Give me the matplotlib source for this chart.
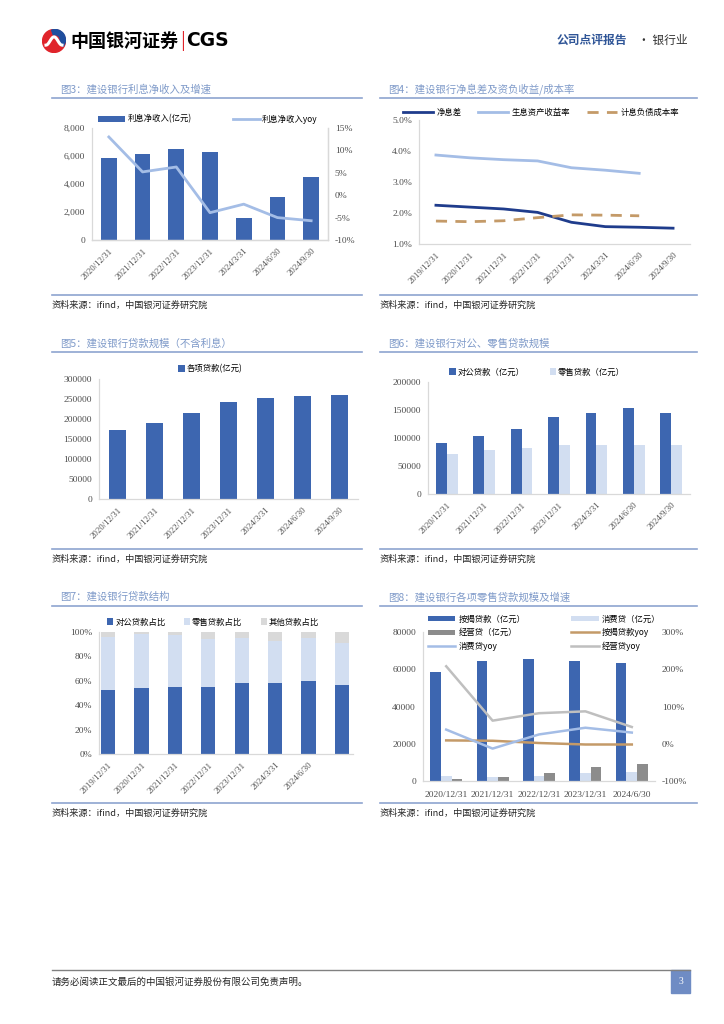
import numpy as np
import matplotlib
matplotlib.use('Agg')
import matplotlib.pyplot as plt
from matplotlib.patches import Rectangle, Circle, Wedge
from matplotlib.lines import Line2D
from matplotlib.ticker import FuncFormatter

plt.rcParams['font.family'] = ['Liberation Serif', 'Noto Sans CJK SC', 'DejaVu Sans']
CJK = ['Noto Sans CJK SC', 'DejaVu Sans']

# ---- data ----
dates7 = ['2020/12/31', '2021/12/31', '2022/12/31', '2023/12/31', '2024/3/31', '2024/6/30', '2024/9/30']
dates8 = ['2019/12/31'] + dates7
dates7b = dates8[:7]
years5 = ['2020/12/31', '2021/12/31', '2022/12/31', '2023/12/31', '2024/6/30']

nii = [5850, 6140, 6520, 6280, 1580, 3060, 4510]
nii_yoy = [13.0, 5.2, 6.3, -3.9, -2.0, -5.0, -5.7]

nim = [2.25, 2.19, 2.13, 2.02, 1.70, 1.56, 1.54, 1.51]
asset_yield = [3.87, 3.78, 3.72, 3.68, 3.46, 3.38, 3.28]
liab_cost = [1.74, 1.72, 1.75, 1.85, 1.94, 1.93, 1.91]

loans = [171300, 190500, 213900, 241500, 252400, 256500, 259900]

corp_loans = [90800, 103300, 116900, 138300, 145400, 153700, 145400]
retail_loans = [71800, 78900, 82500, 87200, 87200, 87800, 87200]

corp_share = [52.3, 54.2, 54.8, 55.3, 58.1, 57.8, 60.0, 56.4]
retail_share = [43.9, 44.2, 42.7, 39.2, 36.7, 35.1, 35.1, 34.6]
other_share = [100 - a - b for a, b in zip(corp_share, retail_share)]

mortgage = [58500, 64200, 65300, 64200, 63400]
consumer = [2500, 2150, 2700, 4300, 4800]
business = [1070, 2150, 4100, 7500, 8950]
mortgage_yoy = [9, 8, 2, -2, -2]
consumer_yoy = [38, -13, 25, 43, 30]
business_yoy = [208, 62, 82, 87, 45]

# ---- style ----
BLUE = '#3D66B0'
LBLUE = '#A4BDE6'
PALE = '#D2DEF1'
GRAY = '#D9D9D9'
DGRAY = '#8C8C8C'
NAVY = '#1F3C8C'
TAN = '#C49A68'
LGRAY = '#BFBFBF'
TITLE_C = '#7F9AC9'
RULE_C = '#8EA4D0'
TICK_C = '#4D4D4D'

W, H = 724, 1024
fig = plt.figure(figsize=(7.24, 10.24), dpi=100)


def fx(p):
    return p / W


def fy(p):
    return 1 - p / H


def box(l, t, r, b):
    return [l / W, 1 - b / H, (r - l) / W, (b - t) / H]


def hline(x0, x1, y, color, lw):
    fig.add_artist(Line2D([fx(x0), fx(x1)], [fy(y), fy(y)], color=color, lw=lw))


def frame(l, r, ty, title):
    fig.text(fx(l + 8), fy(ty), title, color=TITLE_C, fontsize=7.5, va='center', family=CJK)
    hline(l, r, ty + 9, RULE_C, 1.2)
    hline(l, r, ty + 206, RULE_C, 1.2)
    fig.text(fx(l), fy(ty + 216), '资料来源：ifind，中国银河证券研究院', fontsize=6.6,
             va='center', family=CJK, color='#262626')


def style(ax, right=False):
    ax.spines['top'].set_visible(False)
    ax.spines['right'].set_visible(right)
    for s in ['left', 'bottom', 'right']:
        ax.spines[s].set_color(GRAY)
        ax.spines[s].set_linewidth(0.9)
    ax.tick_params(length=0, labelsize=6.8, colors=TICK_C, pad=5)
    ax.patch.set_alpha(0)


def rot(ax, labels):
    ax.set_xticklabels(labels, rotation=45, ha='right', rotation_mode='anchor', fontsize=6.3)


# ---- header / footer ----
lax = fig.add_axes(box(41, 29, 67, 53))
lax.set_aspect('equal')
lax.axis('off')
lax.set_xlim(-1.05, 1.05)
lax.set_ylim(-1.05, 1.05)
lax.add_patch(Circle((0, 0), 1, color='#E0242B'))
lax.add_patch(Wedge((0.1, 0.1), 0.9, -40, 110, width=0.45, color='#1F4E9E'))
t = np.linspace(0, 1, 50)
lax.plot(-0.7 + 1.4 * t, 0.6 * np.sin(np.pi * (2 * t - 0.5)) * 0.6, color='white', lw=2.2)
fig.text(fx(70), fy(41), '中国银河证券', fontsize=13, fontweight='bold', va='center', family=CJK)
fig.text(fx(180), fy(41), '|', fontsize=13, color='#E0242B', va='center', family=CJK)
fig.text(fx(186), fy(41), 'CGS', fontsize=13.5, fontweight='bold', va='center', family=['DejaVu Sans'])
fig.text(fx(557), fy(40), '公司点评报告', fontsize=8.5, fontweight='bold', color='#2F5597', va='center', family=CJK)
fig.text(fx(638), fy(40), '· 银行业', fontsize=8.5, color='#333333', va='center', family=CJK)

hline(52, 690, 970, '#808080', 1.0)
fig.text(fx(52), fy(982), '请务必阅读正文最后的中国银河证券股份有限公司免责声明。', fontsize=6.8,
         va='center', family=CJK, color='#262626')
fig.add_artist(Rectangle((fx(671), fy(993)), fx(690) - fx(671), fy(970) - fy(993),
                         transform=fig.transFigure, color='#6F8CC4'))
fig.text(fx(680.5), fy(981.5), '3', fontsize=7, color='white', ha='center', va='center')

# ---- panel frames ----
frame(52, 362, 89, '图3：建设银行利息净收入及增速')
frame(380, 697, 89, '图4：建设银行净息差及资负收益/成本率')
frame(52, 362, 343, '图5：建设银行贷款规模（不含利息）')
frame(380, 697, 343, '图6：建设银行对公、零售贷款规模')
frame(52, 362, 597, '图7：建设银行贷款结构')
frame(380, 697, 597, '图8：建设银行各项零售贷款规模及增速')

# ---- chart 3 ----
ax = fig.add_axes(box(92, 128, 328, 240))
x = np.arange(len(dates7))
b1 = ax.bar(x, nii, width=0.47, color=BLUE)
ax.set_xlim(-0.5, len(x) - 0.5)
ax.set_ylim(0, 8000)
ax.set_yticks(range(0, 8001, 2000))
ax.yaxis.set_major_formatter(FuncFormatter(lambda v, p: f'{int(v):,}'))
ax.set_xticks(x)
style(ax, right=True)
rot(ax, dates7)
ax2 = ax.twinx()
l1, = ax2.plot(x, nii_yoy, color=LBLUE, lw=2)
ax2.set_ylim(-10, 15)
ax2.set_yticks(range(-10, 16, 5))
ax2.yaxis.set_major_formatter(FuncFormatter(lambda v, p: f'{int(v)}%'))
style(ax2, right=True)
ax2.spines['left'].set_visible(False)
fig.legend([b1, l1], ['利息净收入(亿元)', '利息净收入yoy'], loc='center',
           bbox_to_anchor=(fx(208), fy(119)), ncol=2, frameon=False,
           prop={'family': CJK, 'size': 6}, handlelength=3.2, columnspacing=5, handletextpad=0.3)

# ---- chart 4 ----
ax = fig.add_axes(box(419, 120, 690, 244))
x = np.arange(len(dates8))
h1, = ax.plot(x, nim, color=NAVY, lw=2)
h2, = ax.plot(x[:len(asset_yield)], asset_yield, color=LBLUE, lw=2)
h3, = ax.plot(x[:len(liab_cost)], liab_cost, color=TAN, lw=2, dashes=(4, 3))
ax.set_xlim(-0.5, len(x) - 0.5)
ax.set_ylim(1, 5)
ax.set_yticks([1, 2, 3, 4, 5])
ax.yaxis.set_major_formatter(FuncFormatter(lambda v, p: f'{v:.1f}%'))
ax.set_xticks(x)
style(ax)
rot(ax, dates8)
fig.legend([h1, h2, h3], ['净息差', '生息资产收益率', '计息负债成本率'], loc='center',
           bbox_to_anchor=(fx(541), fy(112)), ncol=3, frameon=False,
           prop={'family': CJK, 'size': 6}, handlelength=3.6, columnspacing=2.0, handletextpad=0.4)

# ---- chart 5 ----
ax = fig.add_axes(box(99, 379, 358, 499))
x = np.arange(len(dates7))
b1 = ax.bar(x, loans, width=0.45, color=BLUE)
ax.set_xlim(-0.5, len(x) - 0.5)
ax.set_ylim(0, 300000)
ax.set_yticks(range(0, 300001, 50000))
ax.set_xticks(x)
style(ax)
rot(ax, dates7)
fig.legend([b1], ['各项贷款(亿元)'], loc='center', bbox_to_anchor=(fx(210), fy(369)),
           frameon=False, prop={'family': CJK, 'size': 6}, handlelength=0.8, handleheight=0.8,
           handletextpad=0.2)

# ---- chart 6 ----
ax = fig.add_axes(box(428, 382, 690, 494))
x = np.arange(len(dates7))
b1 = ax.bar(x - 0.145, corp_loans, width=0.29, color=BLUE)
b2 = ax.bar(x + 0.145, retail_loans, width=0.29, color=PALE)
ax.set_xlim(-0.5, len(x) - 0.5)
ax.set_ylim(0, 200000)
ax.set_yticks(range(0, 200001, 50000))
ax.set_xticks(x)
style(ax)
rot(ax, dates7)
fig.legend([b1, b2], ['对公贷款（亿元）', '零售贷款（亿元）'], loc='center',
           bbox_to_anchor=(fx(537), fy(372)), ncol=2, frameon=False,
           prop={'family': CJK, 'size': 6}, handlelength=0.8, handleheight=0.8,
           handletextpad=0.2, columnspacing=3)

# ---- chart 7 ----
ax = fig.add_axes(box(99, 632, 353, 754))
x = np.arange(len(corp_share))
b1 = ax.bar(x, corp_share, width=0.43, color=BLUE)
b2 = ax.bar(x, retail_share, width=0.43, bottom=corp_share, color=PALE)
bot = [a + b for a, b in zip(corp_share, retail_share)]
b3 = ax.bar(x, other_share, width=0.43, bottom=bot, color=GRAY)
ax.set_xlim(-0.27, len(x) - 1 + 0.33)
ax.set_ylim(0, 100)
ax.set_yticks(range(0, 101, 20))
ax.yaxis.set_major_formatter(FuncFormatter(lambda v, p: f'{int(v)}%'))
ax.set_xticks(x[:len(dates7b)])
style(ax)
rot(ax, dates7b)
fig.legend([b1, b2, b3], ['对公贷款占比', '零售贷款占比', '其他贷款占比'], loc='center',
           bbox_to_anchor=(fx(213), fy(622)), ncol=3, frameon=False,
           prop={'family': CJK, 'size': 6}, handlelength=0.8, handleheight=0.8,
           handletextpad=0.2, columnspacing=2.2)

# ---- chart 8 ----
ax = fig.add_axes(box(423, 632, 655, 781))
x = np.arange(len(years5))
w = 0.23
p1 = ax.bar(x - w, mortgage, width=w, color=BLUE)
p2 = ax.bar(x, consumer, width=w, color=PALE)
p3 = ax.bar(x + w, business, width=w, color=DGRAY)
ax.set_xlim(-0.5, len(x) - 0.5)
ax.set_ylim(0, 80000)
ax.set_yticks(range(0, 80001, 20000))
ax.set_xticks(x)
style(ax)
ax.set_xticklabels(years5, fontsize=6.8)
ax.tick_params(axis='x', pad=7)
ax2 = ax.twinx()
q1, = ax2.plot(x, mortgage_yoy, color=TAN, lw=1.8)
q2, = ax2.plot(x, consumer_yoy, color=LBLUE, lw=1.8)
q3, = ax2.plot(x, business_yoy, color=LGRAY, lw=1.8)
ax2.set_ylim(-100, 300)
ax2.set_yticks(range(-100, 301, 100))
ax2.yaxis.set_major_formatter(FuncFormatter(lambda v, p: f'{int(v)}%'))
style(ax2)
ax2.spines['left'].set_visible(False)
ax2.spines['bottom'].set_visible(False)
fig.legend([p1, p3, q2, p2, q1, q3],
           ['按揭贷款（亿元）', '经营贷（亿元）', '消费贷yoy', '消费贷（亿元）', '按揭贷款yoy', '经营贷yoy'],
           loc='upper left', bbox_to_anchor=(fx(420), fy(607)), ncol=2, frameon=False,
           prop={'family': CJK, 'size': 6}, handlelength=3.3, handleheight=0.6,
           handletextpad=0.4, columnspacing=5.5, labelspacing=0.55)

fig.savefig('out.png', dpi=100)
